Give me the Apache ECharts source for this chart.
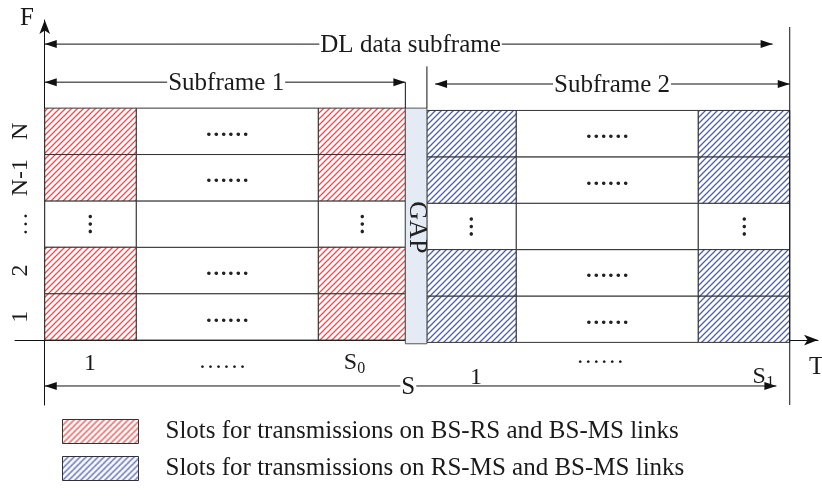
<!DOCTYPE html>
<html>
<head>
<meta charset="utf-8">
<script src="https://cdn.jsdelivr.net/npm/echarts@6/dist/echarts.min.js"></script>
<style>
  html, body { margin: 0; padding: 0; background: #fff; }
  #main { width: 822px; height: 497px; }
</style>
</head>
<body>
<div id="main"></div>
<script>
// x: time inside the DL subframe (0 = start, ~100 = end), y: one unit per sub-channel row
const rowLabels = ['1', '2', '…', 'N-1', 'N'];
const sf1Edges = [0, 12.3, 36.8, 48.5];
const sf2Edges = [51.4, 63.4, 87.9, 100.2];
const sf2Drop = -0.05; // subframe 2 grid sits a hair lower
const gapEdges = [48.5, 51.4];
const gapRows = [-0.08, 5];
const dotsRow = 2;

const spanTitles = ['DL data subframe', 'Subframe 1', 'Subframe 2', 'S'];
const spanFrom = [0, 0, 52.5, 0];
const spanTo = [97.9, 48.5, 100.2, 98.4];
const spanY = [6.38, 5.56, 5.52, -0.99];
const spanTitleX = [49.2, 24.4, 76.3, 48.9];

const markX = [100.2, 51.4, 48.5];
const markTop = [6.75, 5.9, 5.56];
const markBottom = [-1.4, 5, 5];

const slotNames = ['1', '……', 'S', '……', '1', 'S'];
const slotSubs = ['', '', '0', '', '', '1'];
const slotNameX = [6.1, 23.9, 41.1, 74.7, 58.0, 96.1];
const slotNameY = [-0.5, -0.47, -0.49, -0.36, -0.81, -0.79];

const axisLetters = ['F', 'T'];
const axisLetterX = [-2.4, 103.8];
const axisLetterY = [6.94, -0.6];

const legendNames = [
  'Slots for transmissions on BS-RS and BS-MS links',
  'Slots for transmissions on RS-MS and BS-MS links'
];

const FONT = '"Liberation Serif", "Times New Roman", serif';

function hatch(color) {
  const c = document.createElement('canvas');
  c.width = c.height = 6;
  const g = c.getContext('2d');
  g.fillStyle = '#fff';
  g.fillRect(0, 0, 6, 6);
  g.strokeStyle = color;
  g.lineWidth = 1.3;
  g.beginPath();
  g.moveTo(-1, 7); g.lineTo(7, -1);
  g.moveTo(-1, 1); g.lineTo(1, -1);
  g.moveTo(5, 7); g.lineTo(7, 5);
  g.stroke();
  return { image: c, repeat: 'repeat' };
}

// cells [x0, x1, row, drop]
function hatchedCells(edges, drop) {
  const out = [];
  [0, 2].forEach(c => {
    rowLabels.forEach((_, r) => {
      if (r !== dotsRow) out.push([edges[c], edges[c + 1], r, drop]);
    });
  });
  return out;
}
// plain cells [x0, x1, row, drop, kind] kind: 1 = horizontal dots, 2 = vertical dots, 0 = empty
function plainCells(edges, drop) {
  const out = [];
  rowLabels.forEach((_, r) => {
    out.push([edges[1], edges[2], r, drop, r === dotsRow ? 0 : 1]);
    if (r === dotsRow) {
      out.push([edges[0], edges[1], r, drop, 2]);
      out.push([edges[2], edges[3], r, drop, 2]);
    }
  });
  return out;
}

function cellRect(api) {
  const d = api.value(3);
  const p0 = api.coord([api.value(0), api.value(2) + 1 + d]);
  const p1 = api.coord([api.value(1), api.value(2) + d]);
  return { x: p0[0], y: p0[1], width: p1[0] - p0[0], height: p1[1] - p0[1] };
}

function renderHatched(params, api) {
  return {
    type: 'rect',
    shape: cellRect(api),
    style: { fill: api.visual('color'), stroke: '#333', lineWidth: 1 }
  };
}

function renderPlain(params, api) {
  const r = cellRect(api);
  const kind = api.value(4);
  const children = [{
    type: 'rect', shape: r,
    style: { fill: '#fff', stroke: '#333', lineWidth: 1 }
  }];
  if (kind) {
    children.push({
      type: 'text',
      x: r.x + r.width / 2 - (kind === 2 ? 4 : 0),
      y: r.y + r.height / 2 - (kind === 1 ? 1 : 0),
      rotation: kind === 2 ? Math.PI / 2 : 0,
      style: {
        text: kind === 1 ? '……' : '…', font: 'bold 22px ' + FONT,
        fill: '#222', align: 'center', verticalAlign: 'middle'
      }
    });
  }
  return { type: 'group', children: children };
}

function renderGap(params, api) {
  const p0 = api.coord([gapEdges[0], gapRows[1]]);
  const p1 = api.coord([gapEdges[1], gapRows[0]]);
  return {
    type: 'group',
    children: [{
      type: 'rect',
      shape: { x: p0[0], y: p0[1], width: p1[0] - p0[0], height: p1[1] - p0[1] },
      style: { fill: '#e4ebf5', stroke: '#555', lineWidth: 1 }
    }, {
      type: 'text',
      x: (p0[0] + p1[0]) / 2 + 1, y: api.coord([0, 2.43])[1],
      rotation: -Math.PI / 2,
      style: { text: 'GAP', font: '26px ' + FONT, fill: '#222', align: 'center', verticalAlign: 'middle' }
    }]
  };
}

function renderSpan(params, api) {
  const a = api.coord([api.value(0), api.value(2)]);
  const b = api.coord([api.value(1), api.value(2)]);
  const tx = api.coord([api.value(3), api.value(2)])[0];
  const L = 12, W = 4;
  return {
    type: 'group',
    children: [
      { type: 'line', shape: { x1: a[0], y1: a[1], x2: b[0], y2: b[1] }, style: { stroke: '#111', lineWidth: 1 } },
      { type: 'polygon', shape: { points: [[a[0], a[1]], [a[0] + L, a[1] - W], [a[0] + L, a[1] + W]] }, style: { fill: '#111' } },
      { type: 'polygon', shape: { points: [[b[0], b[1]], [b[0] - L, b[1] - W], [b[0] - L, b[1] + W]] }, style: { fill: '#111' } },
      {
        type: 'text', x: tx, y: a[1] + 1,
        style: {
          text: spanTitles[params.dataIndex], font: '25px ' + FONT, fill: '#1a1a1a',
          align: 'center', verticalAlign: 'middle', backgroundColor: '#fff', padding: [0, 1]
        }
      }
    ]
  };
}

function renderMark(params, api) {
  const a = api.coord([api.value(0), api.value(1)]);
  const b = api.coord([api.value(0), api.value(2)]);
  return { type: 'line', shape: { x1: a[0], y1: a[1], x2: b[0], y2: b[1] }, style: { stroke: '#111', lineWidth: 1 } };
}

function renderRowLabel(params, api) {
  const p = api.coord([-3.3, api.value(0) + 0.5]);
  return {
    type: 'text', x: p[0], y: p[1], rotation: Math.PI / 2,
    style: { text: rowLabels[params.dataIndex], font: '24px ' + FONT, fill: '#1a1a1a', align: 'center', verticalAlign: 'middle' }
  };
}

function renderSlotName(params, api) {
  const i = params.dataIndex;
  const p = api.coord([api.value(0), api.value(1)]);
  const children = [{
    type: 'text', x: p[0], y: p[1],
    style: { text: slotNames[i], font: '24px ' + FONT, fill: '#1a1a1a', align: 'center', verticalAlign: 'middle' }
  }];
  if (slotSubs[i]) {
    children.push({
      type: 'text', x: p[0] + 7, y: p[1] + 6,
      style: { text: slotSubs[i], font: '16px ' + FONT, fill: '#1a1a1a', align: 'left', verticalAlign: 'middle' }
    });
  }
  return { type: 'group', children: children };
}

function renderAxisLetter(params, api) {
  const p = api.coord([api.value(0), api.value(1)]);
  return {
    type: 'text', x: p[0], y: p[1],
    style: { text: axisLetters[params.dataIndex], font: '25px ' + FONT, fill: '#1a1a1a', align: 'center', verticalAlign: 'middle' }
  };
}

const chart = echarts.init(document.getElementById('main'));
const redHatch = hatch('#ee4b4b');
const blueHatch = hatch('#4f5fb0');

chart.setOption({
  animation: false,
  grid: { left: 15, right: 4, top: 20, bottom: 92 },
  xAxis: {
    type: 'value', min: -4, max: 104,
    axisLine: { onZero: true, symbol: ['none', 'arrow'], symbolSize: [8, 14], lineStyle: { color: '#111', width: 1 } },
    axisTick: { show: false }, axisLabel: { show: false }, splitLine: { show: false }
  },
  yAxis: {
    type: 'value', min: -1.4, max: 6.9,
    axisLine: { show: true, onZero: true, symbol: ['none', 'arrow'], symbolSize: [8, 14], lineStyle: { color: '#111', width: 1 } },
    axisTick: { show: false }, axisLabel: { show: false }, splitLine: { show: false }
  },
  legend: {
    data: legendNames,
    orient: 'vertical', left: 62, top: 419, padding: 0,
    icon: 'rect', itemWidth: 76, itemHeight: 24, itemGap: 12,
    selectedMode: false,
    itemStyle: { borderColor: '#333', borderWidth: 1 },
    textStyle: { fontFamily: FONT, fontSize: 25, color: '#1a1a1a', padding: [0, 0, 0, 22] }
  },
  series: [
    {
      name: legendNames[0], type: 'custom', clip: false, z: 3,
      itemStyle: { color: redHatch },
      renderItem: renderHatched, data: hatchedCells(sf1Edges, 0)
    },
    {
      name: legendNames[1], type: 'custom', clip: false, z: 3,
      itemStyle: { color: blueHatch },
      renderItem: renderHatched, data: hatchedCells(sf2Edges, sf2Drop)
    },
    {
      type: 'custom', clip: false, z: 2,
      renderItem: renderPlain, data: plainCells(sf1Edges, 0).concat(plainCells(sf2Edges, sf2Drop))
    },
    { type: 'custom', clip: false, z: 4, renderItem: renderGap, data: [0] },
    {
      type: 'custom', clip: false, z: 5, renderItem: renderSpan,
      data: spanTitles.map((_, i) => [spanFrom[i], spanTo[i], spanY[i], spanTitleX[i]])
    },
    {
      type: 'custom', clip: false, z: 5, renderItem: renderMark,
      data: markX.map((x, i) => [x, markTop[i], markBottom[i]])
    },
    {
      type: 'custom', clip: false, z: 5, renderItem: renderRowLabel,
      data: rowLabels.map((_, i) => [i])
    },
    {
      type: 'custom', clip: false, z: 5, renderItem: renderSlotName,
      data: slotNames.map((_, i) => [slotNameX[i], slotNameY[i]])
    },
    {
      type: 'custom', clip: false, z: 5, renderItem: renderAxisLetter,
      data: axisLetters.map((_, i) => [axisLetterX[i], axisLetterY[i]])
    }
  ]
});
</script>
</body>
</html>
